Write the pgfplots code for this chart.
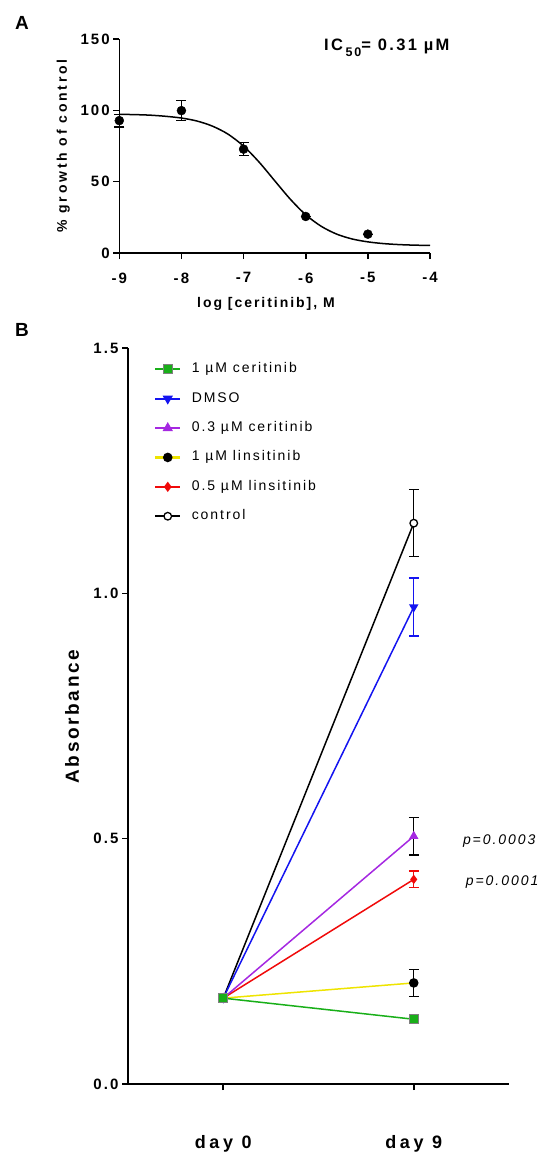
\documentclass[border=0pt]{standalone}
\usepackage{fontspec}
\setmainfont{Liberation Sans}
\newfontfamily\spaced[LetterSpace=14]{Liberation Sans}
\newfontfamily\wide[LetterSpace=20]{Liberation Sans}
\usepackage{pgfplots}
\pgfplotsset{compat=1.18}

\definecolor{cgreen}{RGB}{25,175,25}
\definecolor{cblue}{RGB}{20,20,240}
\definecolor{cpurple}{RGB}{165,40,225}
\definecolor{cyellow}{RGB}{238,228,0}
\definecolor{cred}{RGB}{240,10,10}

\pgfplotsset{
  figaxis/.style={
    scale only axis,
    axis lines=left,
    axis line style={line width=1.6pt,-},
    tick style={line width=1.6pt,black},
    major tick length=6pt,
    tick align=outside,
    ticklabel style={font=\spaced\bfseries\fontsize{15}{15}\selectfont},
    label style={font=\spaced\bfseries\fontsize{14}{14}\selectfont},
    clip=false,
  },
}

\begin{document}
\begin{tikzpicture}
\path[use as bounding box] (0,0) rectangle (541pt,-1155pt);

% panel A
\node[font=\bfseries\fontsize{19}{19}\selectfont] at (22pt,-23pt) {A};
\begin{axis}[figaxis,
    at={(119.3pt,-253pt)}, anchor=south west,
    width=310.7pt, height=214pt,
    xmin=-9, xmax=-4, ymin=0, ymax=150,
    xtick={-9,-8,-7,-6,-5,-4},
    xticklabels={-9,-8,-7,-6,-5,-4},
    xticklabel style={yshift=-10pt},
    ytick={0,50,100,150},
    yticklabels={0,50,100,150},
    xlabel={log [ceritinib], M},
    ylabel={\% growth of control},
    xlabel style={at={(axis description cs:0.472,-0.238)},anchor=center},
    ylabel style={font=\wide\bfseries\fontsize{14}{14}\selectfont,
      at={(axis description cs:-0.18,0.5)},anchor=center},
  ]
  % fitted curve
  \addplot[black, line width=1.5pt, smooth] coordinates {
    (-9,97.2) (-8.75,97.0) (-8.5,96.6) (-8.25,95.8) (-8,94.6) (-7.75,92.5)
    (-7.5,88.9) (-7.25,83.3) (-7,74.9) (-6.75,63.7) (-6.5,50.7) (-6.25,37.8)
    (-6,26.8) (-5.75,18.7) (-5.5,13.2) (-5.25,9.8) (-5,7.8) (-4.75,6.6)
    (-4.5,5.9) (-4.25,5.5) (-4,5.3)
  };
  \addplot[only marks, mark=*, mark size=4.5pt, black,
    error bars/.cd, y dir=both, y explicit,
    error bar style={line width=1.3pt},
    error mark options={rotate=90, mark size=5pt, line width=1.3pt}]
    coordinates {
    (-9,92.8) +- (0,4.5)
    (-8,99.8) +- (0,7)
    (-7,72.8) +- (0,4.5)
    (-6,25.6) +- (0,0)
    (-5,13.2) +- (0,0)
  };
  \node[font=\spaced\bfseries\fontsize{16.5}{16.5}\selectfont, anchor=west]
    at (axis description cs:0.648,0.96)
    {IC\,\raisebox{-0.35em}{\fontsize{12.5}{12.5}\selectfont 50}= 0.31 µM};
\end{axis}

% panel B
\node[font=\bfseries\fontsize{19}{19}\selectfont] at (22pt,-330pt) {B};
\begin{axis}[figaxis,
    at={(128pt,-1084pt)}, anchor=south west,
    width=381pt, height=736pt,
    xmin=-0.5, xmax=1.5, ymin=0, ymax=1.5,
    xtick={0,1},
    xticklabels={day 0,day 9},
    xticklabel style={font=\wide\bfseries\fontsize{18}{18}\selectfont, yshift=-42pt},
    ytick={0,0.5,1,1.5},
    yticklabels={0.0,0.5,1.0,1.5},
    ylabel={Absorbance},
    ylabel style={font=\spaced\bfseries\fontsize{19}{19}\selectfont,
      at={(axis description cs:-0.147,0.499)},anchor=center},
    reverse legend,
    legend style={draw=none, fill=none, at={(axis description cs:0.06,0.985)},
      anchor=north west, font=\spaced\fontsize{14}{14}\selectfont,
      row sep=13.4pt, nodes={inner sep=1.5pt, text height=10pt, text depth=3pt}},
    legend cell align=left,
    legend image code/.code={
      \draw[#1, mark repeat=2, mark phase=2, line width=2pt]
        plot coordinates {(0pt,0pt) (12.5pt,0pt) (25pt,0pt)};
      \path[draw=none] (25pt,0pt) -- (35pt,0pt);},
  ]
  \addplot[black, line width=1.5pt, mark=*, mark size=3.8pt,
    mark options={fill=white, line width=1.3pt},
    error bars/.cd, y dir=both, y explicit,
    error bar style={line width=1.3pt, black},
    error mark options={rotate=90, mark size=5pt, line width=1.3pt, black}]
    coordinates {(0,0.175) +- (0,0) (1,1.143) +- (0,0.068)};
  \addlegendentry{control}
  \addplot[cred, line width=1.5pt, mark=diamond*, mark size=3.5pt,
    error bars/.cd, y dir=both, y explicit,
    error bar style={line width=1.3pt, cred},
    error mark options={rotate=90, mark size=5pt, line width=1.3pt, cred}]
    coordinates {(0,0.175) +- (0,0) (1,0.417) +- (0,0.017)};
  \addlegendentry{0.5 µM linsitinib}
  \addplot[cyellow, line width=1.5pt, mark=*, mark size=4pt,
    mark options={draw=black, fill=black},
    legend image code/.code={
      \draw[cyellow, line width=2.4pt] (0pt,0pt) -- (25pt,0pt);
      \fill[black] (12.5pt,0pt) circle (4pt);
      \path[draw=none] (25pt,0pt) -- (35pt,0pt);},
    error bars/.cd, y dir=both, y explicit,
    error bar style={line width=1.3pt, black},
    error mark options={rotate=90, mark size=5pt, line width=1.3pt, black}]
    coordinates {(0,0.175) +- (0,0) (1,0.206) +- (0,0.027)};
  \addlegendentry{1 µM linsitinib}
  \addplot[cpurple, line width=1.5pt, mark=triangle*, mark size=4pt,
    error bars/.cd, y dir=both, y explicit,
    error bar style={line width=1.3pt, black},
    error mark options={rotate=90, mark size=5pt, line width=1.3pt, black}]
    coordinates {(0,0.175) +- (0,0) (1,0.505) +- (0,0.038)};
  \addlegendentry{0.3 µM ceritinib}
  \addplot[cblue, line width=1.5pt, mark=triangle*, mark size=4pt,
    mark options={rotate=180},
    error bars/.cd, y dir=both, y explicit,
    error bar style={line width=1.3pt, cblue},
    error mark options={rotate=90, mark size=5pt, line width=1.3pt, cblue}]
    coordinates {(0,0.175) +- (0,0) (1,0.972) +- (0,0.059)};
  \addlegendentry{DMSO}
  \addplot[cgreen, line width=1.5pt, mark=square*, mark size=4.5pt,
    mark options={fill=cgreen, draw=gray, line width=1.2pt}]
    coordinates {(0,0.175) (1,0.132)};
  \addlegendentry{1 µM ceritinib}
  \node[font=\spaced\itshape\fontsize{14}{14}\selectfont, anchor=west]
    at (axis cs:1.24,0.495) {p=0.0003};
  \node[font=\spaced\itshape\fontsize{14}{14}\selectfont, anchor=west]
    at (axis cs:1.255,0.412) {p=0.0001};
\end{axis}
\end{tikzpicture}
\end{document}
